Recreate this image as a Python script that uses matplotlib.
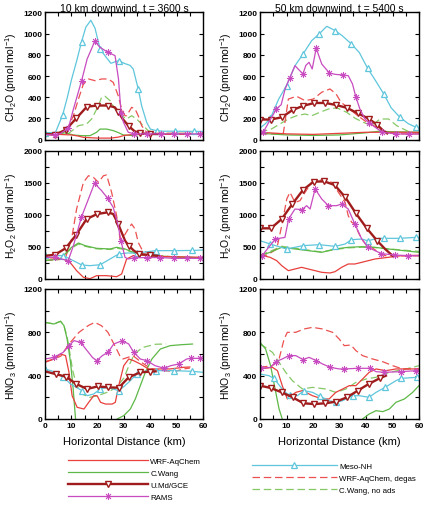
import numpy as np
import matplotlib.pyplot as plt
from matplotlib.ticker import MultipleLocator

plt.rcParams['font.family'] = ['Liberation Sans', 'DejaVu Sans']
plt.rcParams['mathtext.default'] = 'regular'

# ---------------- CH2O, 10 km downwind ----------------
ch2o10_wrf_x = [0, 5, 10, 12.5, 14.6, 20, 25, 28, 30, 33, 36, 40, 60]
ch2o10_wrf = [50, 50, 45, 35, 22, 15, 15, 25, 40, 48, 50, 50, 50]
ch2o10_cw_x = [0, 5.7, 8, 10.8, 14, 17.1, 19.6, 20.9, 23.4, 26, 28, 29.8, 33, 36, 40, 50, 60]
ch2o10_cw = [60, 70, 62, 44, 38, 38, 70, 100, 100, 85, 65, 44, 40, 50, 55, 55, 55]
ch2o10_umd_x = [0, 3.9, 7.9, 11.9, 15.9, 19.9, 23.9, 26.5, 27.9, 29.5, 31.9, 34, 35.9, 38, 39.9, 44]
ch2o10_umd = [55, 47, 94, 202, 311, 322, 322, 305, 262, 195, 126, 80, 63, 56, 54, 54]
ch2o10_umd_mk = [3.9, 7.9, 11.9, 15.9, 19.9, 23.9, 27.9, 31.9, 35.9, 39.9]
ch2o10_rams_x = [0, 3.8, 6, 8.9, 10.8, 13.9, 16, 18.9, 20.9, 23.9, 26.6, 27.9, 28.9, 29.8,
                 31.6, 33.9, 38.9, 43.9, 48.9, 53.9, 58.9, 60]
ch2o10_rams = [50, 44, 60, 110, 289, 556, 760, 927, 870, 823, 792, 572, 250, 164,
               70, 55, 55, 55, 55, 55, 55, 55]
ch2o10_rams_mk = [3.8, 8.9, 13.9, 18.9, 23.9, 28.9, 33.9, 38.9, 43.9, 48.9, 53.9, 58.9]
ch2o10_meso_x = [0, 4, 6.7, 8.5, 10, 12, 13.9, 15.5, 17.4, 19, 20.9, 22.8, 25, 28.1, 30, 32.3,
                 33.5, 35.4, 36.7, 38.6, 40, 42.4, 45, 49.4, 56.4, 60]
ch2o10_meso = [63, 70, 233, 400, 560, 740, 924, 1060, 1125, 1050, 855, 790, 720, 745, 720, 700,
               666, 478, 320, 164, 100, 85, 80, 80, 78, 78]
ch2o10_meso_mk = [0, 6.7, 13.9, 20.9, 28.1, 35.4, 42.4, 49.4, 56.4]
ch2o10_degas_x = [0, 5, 8.2, 10.8, 12.7, 14.6, 16.5, 19, 21.5, 24, 25.9, 27.8, 29.1, 30.4, 31,
                  32.9, 34.2, 35.4, 36.7, 38.6, 42, 60]
ch2o10_degas = [55, 55, 85, 226, 383, 525, 572, 556, 572, 572, 540, 415, 289, 226, 226,
                305, 289, 226, 132, 70, 60, 60]
ch2o10_noads_x = [0, 5, 9, 12.7, 15.8, 17.7, 20.3, 21.5, 22.8, 24.7, 26.6, 29.1, 31, 32.9, 34.8,
                  37.3, 39.2, 42, 60]
ch2o10_noads = [55, 55, 60, 132, 148, 195, 320, 400, 409, 368, 289, 226, 195, 226, 195,
                132, 85, 60, 58]

# ---------------- CH2O, 50 km downwind ----------------
ch2o50_wrf_x = [0, 10, 20, 30, 40, 50, 60]
ch2o50_wrf = [70, 55, 50, 60, 70, 70, 70]
ch2o50_cw_x = [0, 10, 20, 30, 40, 45, 50, 60]
ch2o50_cw = [60, 45, 40, 45, 65, 80, 75, 70]
ch2o50_umd_x = [0, 4.1, 8.2, 12.3, 16.4, 20.5, 24.6, 28.7, 32.8, 36.9, 41, 44.3, 46.5, 48]
ch2o50_umd = [190, 190, 211, 280, 320, 346, 346, 327, 300, 249, 198, 139, 85, 60]
ch2o50_umd_mk = [0, 4.1, 8.2, 12.3, 16.4, 20.5, 24.6, 28.7, 32.8, 36.9, 41, 44.3]
ch2o50_rams_x = [0, 1.2, 3, 6.2, 8, 9.5, 11.2, 13.2, 16.2, 17.3, 18.5, 19.7, 21.2, 23.3, 26.2,
                 28.5, 31.2, 33.3, 34.9, 36.2, 37.7, 39.6, 41.2, 43, 46.2, 51.2, 56.2, 60]
ch2o50_rams = [60, 69, 150, 290, 330, 480, 580, 697, 619, 700, 729, 666, 861, 713, 628,
               615, 610, 603, 525, 400, 289, 195, 160, 125, 70, 54, 54, 54]
ch2o50_rams_mk = [1.2, 6.2, 11.2, 16.2, 21.2, 26.2, 31.2, 36.2, 41.2, 46.2, 51.2, 56.2]
ch2o50_meso_x = [0, 2, 3.9, 7, 10, 13.2, 16.2, 19.5, 22.3, 25.2, 28.4, 31, 34.5, 37.5, 40.6,
                 43.5, 46.7, 49.5, 52.8, 56, 58.9, 60]
ch2o50_meso = [110, 150, 200, 380, 510, 697, 805, 933, 996, 1068, 1027, 980, 902, 820, 673,
               560, 431, 300, 211, 150, 117, 117]
ch2o50_meso_mk = [3.9, 10, 16.2, 22.3, 28.4, 34.5, 40.6, 46.7, 52.8, 58.9]
ch2o50_degas_x = [0, 5, 8.8, 10.7, 13.8, 17, 20.1, 23.3, 26.4, 28.7, 30.6, 33.8, 36.9, 40.3,
                  44.1, 47.8, 51.3, 60]
ch2o50_degas = [55, 55, 60, 383, 409, 368, 383, 447, 478, 431, 352, 289, 226, 164,
                117, 70, 55, 55]
ch2o50_noads_x = [0, 4.4, 7.5, 10.7, 13.8, 17, 19.5, 22.6, 25.8, 29, 32.7, 36, 39, 42.1, 45.3,
                  48.5, 51.6, 56.6, 60]
ch2o50_noads = [70, 102, 148, 195, 226, 242, 226, 258, 289, 300, 258, 200, 164, 132, 195,
                195, 132, 70, 60]

# ---------------- H2O2, 10 km downwind ----------------
h2o210_wrf_x = [0, 7, 9.5, 12, 14.6, 17.1, 19.6, 23.4, 27.2, 29.1, 31, 33.5, 37.3, 45, 60]
h2o210_wrf = [338, 312, 260, 130, 26, 5, 52, 52, 36, 78, 312, 364, 374, 350, 338]
h2o210_cw_x = [0, 5.7, 10.1, 12.7, 15.2, 19.6, 24.7, 27.2, 30.4, 33.5, 37.3, 42, 50, 60]
h2o210_cw = [286, 312, 494, 561, 520, 478, 468, 494, 468, 416, 374, 360, 345, 330]
h2o210_umd_x = [0, 3.8, 7.8, 11.8, 15.8, 19.8, 23.8, 25.9, 27.8, 30.4, 31.8, 33.8, 35.8, 39.8, 43]
h2o210_umd = [360, 379, 478, 686, 935, 1013, 1039, 1013, 857, 597, 519, 440, 390, 374, 360]
h2o210_umd_mk = [3.8, 7.8, 11.8, 15.8, 19.8, 23.8, 27.8, 31.8, 35.8, 39.8]
h2o210_rams_x = [0, 3.8, 8.8, 10.8, 13.8, 16.5, 18.8, 21.5, 23.8, 25.9, 27.8, 28.8, 30.4, 31.6,
                 33.8, 38.8, 43.8, 48.8, 53.8, 58.8, 60]
h2o210_rams = [338, 338, 286, 520, 961, 1247, 1491, 1377, 1257, 1117, 831, 600, 338, 312,
               330, 335, 335, 322, 322, 322, 322]
h2o210_rams_mk = [3.8, 8.8, 13.8, 18.8, 23.8, 28.8, 33.8, 38.8, 43.8, 48.8, 53.8, 58.8]
h2o210_meso_x = [0, 3.2, 7, 9.5, 14, 17.1, 21, 24.7, 28, 31, 35, 42, 49, 56, 60]
h2o210_meso = [374, 364, 364, 312, 218, 208, 223, 312, 390, 405, 405, 442, 442, 445, 452]
h2o210_meso_mk = [0, 7, 14, 21, 28, 35, 42, 49, 56]
h2o210_degas_x = [0, 7.6, 10.1, 12, 14.6, 16.5, 18.4, 20.3, 22.2, 23.4, 25.3, 27.2, 28.5, 29.7,
                  31.6, 32.9, 34.2, 35.4, 36.7, 38.6, 42, 50, 60]
h2o210_degas = [286, 312, 623, 1091, 1507, 1610, 1584, 1507, 1610, 1621, 1351, 987, 623, 649,
                779, 857, 779, 571, 468, 416, 370, 340, 330]
h2o210_noads_x = [0, 5.7, 10.1, 12.7, 15.2, 19.6, 24.7, 27.2, 30.4, 33.5, 37.3, 42, 50, 60]
h2o210_noads = [290, 305, 480, 545, 510, 470, 460, 480, 460, 410, 370, 355, 340, 325]

# ---------------- H2O2, 50 km downwind ----------------
h2o250_wrf_x = [0, 3.8, 6.3, 8.2, 10.7, 13.2, 15.7, 18.2, 20.8, 23.3, 26.4, 28.3, 30.8, 33.3,
                35.8, 38.4, 43.4, 48.4, 53.5, 60]
h2o250_wrf = [374, 338, 286, 208, 130, 156, 182, 156, 130, 104, 94, 114, 182, 234,
              234, 260, 312, 338, 364, 370]
h2o250_cw_x = [0, 3.8, 8.2, 13.2, 18.2, 23.3, 28.3, 33.3, 38.4, 43.4, 48.4, 60]
h2o250_cw = [364, 416, 494, 468, 442, 416, 468, 494, 504, 494, 468, 416]
h2o250_umd_x = [0, 4.1, 8.2, 12.2, 16.2, 20.2, 24.2, 28.2, 32.2, 36.2, 40.2, 44.2, 47.2, 50]
h2o250_umd = [790, 790, 935, 1169, 1387, 1517, 1522, 1465, 1273, 1023, 795, 597, 468, 364]
h2o250_umd_mk = [0, 4.1, 8.2, 12.2, 16.2, 20.2, 24.2, 28.2, 32.2, 36.2, 40.2, 44.2]
h2o250_rams_x = [0, 0.8, 3, 5.8, 9.4, 10.8, 13.2, 15.8, 17.6, 18.9, 20.8, 23.3, 25.8, 28.9,
                 30.8, 33.3, 35.8, 38.4, 40.8, 43.4, 45.8, 50.8, 55.8, 60]
h2o250_rams = [364, 364, 480, 623, 649, 935, 1091, 1081, 1143, 1091, 1403, 1247, 1143, 1143,
               1169, 1091, 857, 623, 494, 442, 395, 374, 364, 364]
h2o250_rams_mk = [0.8, 5.8, 10.8, 15.8, 20.8, 25.8, 30.8, 35.8, 40.8, 45.8, 50.8, 55.8]
h2o250_meso_x = [0, 3.9, 10, 13.2, 16.2, 22.3, 28.4, 32.1, 34.5, 38.4, 40.6, 44.7, 46.7,
                 52.8, 58.9, 60]
h2o250_meso = [597, 545, 468, 494, 520, 535, 509, 545, 613, 623, 597, 634, 634, 634, 649, 649]
h2o250_meso_mk = [3.9, 10, 16.2, 22.3, 28.4, 34.5, 40.6, 46.7, 52.8, 58.9]
h2o250_degas_x = [0, 3, 6.3, 8.2, 10.1, 11.3, 13.2, 15.1, 17, 19.5, 22, 24.5, 27, 29.6, 32.1,
                  33.3, 34.6, 35.8, 37.1, 38.4, 40.3, 42.1, 44.7, 47.2, 52, 60]
h2o250_degas = [340, 380, 468, 831, 1247, 1351, 1195, 1221, 1351, 1507, 1533, 1558, 1507,
                1351, 1195, 987, 883, 857, 727, 623, 520, 494, 416, 364, 360, 360]
h2o250_noads_x = [0, 3.8, 8.2, 13.2, 18.2, 23.3, 28.3, 33.3, 38.4, 43.4, 48.4, 60]
h2o250_noads = [370, 430, 510, 480, 450, 420, 460, 485, 495, 490, 470, 430]

# ---------------- HNO3, 10 km downwind ----------------
hno310_wrf_x = [0, 3.4, 5.9, 7.8, 9.1, 10.3, 12.2, 14.8, 16.6, 18.5, 19.8, 21.1, 23, 25.5, 26.7,
                28, 29.9, 31.8, 33.7, 36.2, 39.3, 42.5, 47.5, 52.6, 55]
hno310_wrf = [523, 554, 600, 585, 431, 215, 108, 92, 154, 215, 215, 154, 138, 138, 154,
              308, 492, 554, 538, 508, 462, 462, 462, 477, 480]
hno310_cw_x = [0, 3.4, 5.9, 7.2, 8.4, 9.7, 10.7, 11.6, 12.2, 26.5, 27.4, 29.9, 32.4, 34.3, 36.2,
               38.1, 40.6, 43.8, 47.5, 51.9, 56]
hno310_cw = [892, 877, 902, 862, 738, 523, 277, 0, -150, -150, 0, 31, 92, 185, 308,
             431, 554, 646, 677, 686, 692]
hno310_umd_x = [0, 4, 7.9, 11.9, 16, 20, 23.9, 28, 31.8, 36.2, 40, 42]
hno310_umd = [440, 415, 391, 323, 277, 301, 292, 289, 385, 431, 437, 440]
hno310_umd_mk = [4, 7.9, 11.9, 16, 20, 23.9, 28, 31.8, 36.2, 40]
hno310_rams_x = [0, 3.4, 6.9, 9.1, 11, 13.5, 15.5, 18, 19.6, 21.8, 23.9, 26.1, 29.3, 31.8, 33.7,
                 36.2, 38.7, 41.8, 45.3, 47.7, 50.8, 53.8, 55.5, 59, 60]
hno310_rams = [554, 569, 615, 677, 723, 708, 646, 569, 538, 585, 615, 692, 723, 692, 615,
               554, 538, 492, 468, 492, 508, 554, 560, 560, 560]
hno310_rams_mk = [3.4, 9.1, 13.5, 19.6, 23.9, 29.3, 33.7, 38.7, 45.3, 50.8, 55.5, 59]
hno310_meso_x = [0, 3.4, 7, 9.7, 14, 16, 18.5, 21, 23.6, 28, 30, 32.4, 35, 38.7, 42, 49, 56, 60]
hno310_meso = [462, 437, 385, 323, 262, 215, 231, 277, 292, 262, 300, 354, 420, 446, 446,
               446, 440, 431]
hno310_meso_mk = [0, 7, 14, 21, 28, 35, 42, 49, 56]
hno310_degas_x = [0, 3, 6, 9.1, 12.9, 16.4, 18.9, 21.4, 23.9, 26.5, 28.4, 29.6, 31.5, 33.4,
                  36.6, 40.4, 45.4, 49.2, 52.4, 55]
hno310_degas = [530, 550, 580, 692, 800, 862, 892, 862, 800, 677, 585, 554, 569, 585,
                523, 462, 446, 437, 462, 470]
hno310_noads_x = [0, 3.4, 5.9, 7.2, 8.4, 9.5, 10.5, 12, 14, 17, 20, 24, 27, 30, 32, 34, 37, 42, 46]
hno310_noads = [892, 877, 902, 862, 760, 600, 450, 310, 230, 200, 215, 250, 290, 380, 500,
                600, 660, 690, 692]

# ---------------- HNO3, 50 km downwind ----------------
hno350_wrf_x = [0, 4.7, 6.6, 8.4, 10.3, 13.5, 16, 19.8, 23.6, 26.1, 28.6, 31.2, 33.7, 36.2,
                38.7, 41.2, 43.8, 47.5, 51.3, 60]
hno350_wrf = [462, 477, 446, 308, 185, 246, 262, 215, 185, 185, 246, 277, 308, 308,
              369, 431, 462, 446, 462, 462]
hno350_cw_x = [0, 2.1, 4, 5.7, 7.2, 8.4, 9.5, 38, 38.7, 41.2, 43.8, 46.3, 48.8, 51.3, 54.5,
               57.6, 60]
hno350_cw = [708, 646, 492, 277, 92, 0, -150, -150, 0, 46, 77, 68, 92, 154, 185, 246, 308]
hno350_umd_x = [0, 4.1, 8.2, 12.3, 16.4, 20.5, 24.6, 28.7, 32.8, 36.9, 41, 45.1, 47.5]
hno350_umd = [308, 286, 246, 200, 145, 138, 145, 160, 200, 262, 323, 375, 400]
hno350_umd_mk = [0, 4.1, 8.2, 12.3, 16.4, 20.5, 24.6, 28.7, 32.8, 36.9, 41, 45.1]
hno350_rams_x = [0, 0.5, 4, 5.9, 8.4, 10.9, 13.5, 16.3, 18.5, 21.3, 23.6, 26.5, 29.9, 31.8,
                 36.8, 41.5, 43.8, 46.9, 53.2, 58.9, 60]
hno350_rams = [468, 468, 477, 529, 554, 585, 585, 548, 569, 538, 508, 477, 462, 462,
               468, 468, 437, 431, 437, 446, 446]
hno350_rams_mk = [0.5, 5.9, 10.9, 16.3, 21.3, 26.5, 31.8, 36.8, 41.5, 46.9, 53.2, 58.9]
hno350_meso_x = [0, 3.4, 5.2, 8.4, 10.3, 11.3, 14.1, 16.6, 19.8, 22.7, 26.1, 28.8, 31.1, 35,
                 37.5, 41.1, 43.8, 47.2, 51.3, 53.3, 59.4, 60]
hno350_meso = [415, 400, 375, 277, 231, 225, 215, 262, 246, 209, 169, 154, 169, 215,
               215, 200, 246, 292, 354, 375, 385, 385]
hno350_meso_mk = [5.2, 11.3, 16.6, 22.7, 28.8, 35, 41.1, 47.2, 53.3, 59.4]
hno350_degas_x = [0, 4.7, 7.2, 9.1, 10.3, 13.5, 16.6, 19.8, 23.6, 27.4, 29.9, 31.8, 34.3, 36.2,
                  38.7, 42.5, 46.3, 50.1, 53.8, 60]
hno350_degas = [477, 492, 554, 738, 800, 800, 831, 846, 831, 800, 738, 677, 683, 631,
                585, 554, 529, 492, 462, 462]
hno350_noads_x = [0, 2, 4.7, 7.2, 9.7, 12.2, 16, 19.8, 24.8, 28.6, 32.4, 36.2, 40, 43.8, 48.8,
                  55.1, 60]
hno350_noads = [692, 662, 615, 523, 431, 354, 277, 292, 277, 246, 277, 338, 369, 385, 431,
                462, 492]

# ---------------- styles ----------------
red = '#e8403c'
green = '#5db847'
dkred = '#a01c1c'
magenta = '#c84bc0'
cyan = '#5fc6dc'
dash = (0, (6, 3))

styles = {
    'wrf': dict(color=red, lw=0.9, label='WRF-AqChem'),
    'cw': dict(color=green, lw=0.9, label='C.Wang'),
    'umd': dict(color=dkred, lw=1.7, marker='v', ms=5, mfc='white', mec=dkred, mew=1.0,
                label='U.Md/GCE'),
    'rams': dict(color=magenta, lw=0.9, marker=(8, 2, 0), ms=5, mew=0.6, label='RAMS'),
    'meso': dict(color=cyan, lw=0.9, marker='^', ms=5, mfc='white', mec=cyan, mew=0.9,
                 label='Meso-NH'),
    'degas': dict(color='#ec5050', lw=0.9, ls=dash, label='WRF-AqChem, degas'),
    'noads': dict(color='#86c866', lw=0.9, ls=dash, label='C.Wang, no ads'),
}
order = ['noads', 'degas', 'cw', 'wrf', 'meso', 'umd', 'rams']

panels = [
    ('ch2o10', 0, 0), ('ch2o50', 0, 1),
    ('h2o210', 1, 0), ('h2o250', 1, 1),
    ('hno310', 2, 0), ('hno350', 2, 1),
]
g = globals()

fig = plt.figure(figsize=(4.29, 5.06), dpi=100)
W, H = 429, 506
col_x = [(45, 158), (260, 159)]
row_y = [(13.3, 127.4), (151.7, 128.3), (290, 130)]
ylims = [(0, 1200, 200, 200), (0, 2000, 500, 250), (0, 1200, 400, 200)]
ylabels = ['CH$_2$O (pmol mol$^{-1}$)', 'H$_2$O$_2$ (pmol mol$^{-1}$)',
           'HNO$_3$ (pmol mol$^{-1}$)']
titles = ['10 km downwind, t = 3600 s', '50 km downwind, t = 5400 s']

handles = {}
for name, r, c in panels:
    x0, w = col_x[c]
    y0, h = row_y[r]
    ax = fig.add_axes([x0 / W, 1 - (y0 + h) / H, w / W, h / H])
    for key in order:
        xs = np.array(g[name + '_' + key + '_x'], dtype=float)
        ys = np.array(g[name + '_' + key], dtype=float)
        st = dict(styles[key])
        mk = g.get(name + '_' + key + '_mk')
        if mk is not None:
            st['markevery'] = list(np.isin(np.round(xs, 2), np.round(mk, 2)))
        ln, = ax.plot(xs, ys, **st)
        handles[key] = ln
    lo, hi, maj, mnr = ylims[r]
    ax.set_xlim(0, 60)
    ax.set_ylim(lo, hi)
    ax.xaxis.set_major_locator(MultipleLocator(10))
    ax.xaxis.set_minor_locator(MultipleLocator(5))
    ax.yaxis.set_major_locator(MultipleLocator(maj))
    ax.yaxis.set_minor_locator(MultipleLocator(mnr))
    ax.tick_params(which='both', direction='in', top=True, right=True, length=3,
                   width=0.8, labelsize=6, pad=2)
    for lab in ax.get_xticklabels() + ax.get_yticklabels():
        lab.set_fontweight('bold')
    for sp in ax.spines.values():
        sp.set_linewidth(1.0)
    ax.set_ylabel(ylabels[r], fontsize=7.5, labelpad=3)
    if r < 2:
        ax.tick_params(labelbottom=False)
    else:
        ax.set_xlabel('Horizontal Distance (km)', fontsize=8, labelpad=5.5)
    if r == 0:
        ax.set_title(titles[c], fontsize=7.5, pad=1.0)

fig.legend(handles=[handles[k] for k in ['wrf', 'cw', 'umd', 'rams']],
           loc='upper left', bbox_to_anchor=(68 / W, 1 - 458.5 / H), frameon=False,
           fontsize=5.7, handlelength=10.1, handletextpad=0.3, labelspacing=0.55,
           borderpad=0, borderaxespad=0, numpoints=1)
fig.legend(handles=[handles[k] for k in ['meso', 'degas', 'noads']],
           loc='upper left', bbox_to_anchor=(252 / W, 1 - 463 / H), frameon=False,
           fontsize=5.7, handlelength=10.7, handletextpad=0.3, labelspacing=0.6,
           borderpad=0, borderaxespad=0, numpoints=1)

fig.savefig('out.png', dpi=100)
